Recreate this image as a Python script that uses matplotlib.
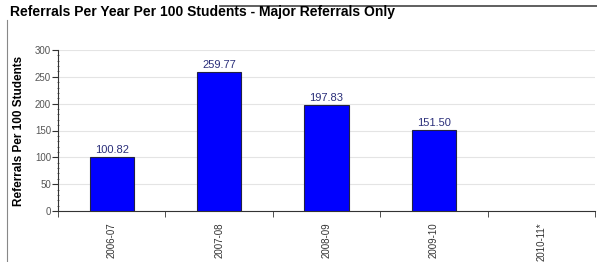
import numpy as np
import matplotlib.pyplot as plt
from matplotlib.lines import Line2D
from matplotlib.ticker import MultipleLocator

plt.rcParams['font.family'] = ['Liberation Sans', 'DejaVu Sans']

# Данные
years = ['2006-07', '2007-08', '2008-09', '2009-10', '2010-11*']
values = [100.82, 259.77, 197.83, 151.50, None]

fig = plt.figure(figsize=(5.97, 2.62), dpi=100)
ax = fig.add_axes([58 / 597, 1 - 211 / 262, 537 / 597, 161 / 262])

x = np.arange(len(years))
for xi, v in zip(x, values):
    if v is None:
        continue
    ax.bar(xi, v, width=0.41, color='#0000ff', edgecolor='#222244', linewidth=0.8, zorder=3)
    ax.text(xi, v + 3, f'{v:.2f}', ha='center', va='bottom', fontsize=8, color='#2b2f7a', zorder=4)

ax.set_xlim(-0.5, len(years) - 0.5)
ax.set_ylim(0, 300)
ax.yaxis.set_major_locator(MultipleLocator(50))
ax.yaxis.set_minor_locator(MultipleLocator(10))
ax.grid(axis='y', color='#e4e4e4', linewidth=0.8, zorder=0)

# подписи по центру категорий, штрихи на границах
ax.set_xticks(x)
ax.set_xticklabels(years, rotation=90, fontsize=7, color='#333333')
ax.tick_params(axis='x', length=0, pad=8)
ax.set_xticks(np.arange(len(years) + 1) - 0.5, minor=True)
ax.tick_params(axis='x', which='minor', length=4, direction='out', color='#333333')
ax.tick_params(axis='y', which='major', length=4, direction='out', labelsize=7,
               labelcolor='#555555', color='#333333', pad=1)
ax.tick_params(axis='y', which='minor', length=2, direction='inout', color='#555555')

for s in ['top', 'right']:
    ax.spines[s].set_visible(False)
ax.spines['left'].set_color('#333333')
ax.spines['bottom'].set_color('#333333')

ax.set_ylabel('Referrals Per 100 Students', fontsize=8.5, fontweight='bold')
ax.yaxis.set_label_coords(-0.062, 0.5)

fig.text(10 / 597, 1 - 12 / 262, 'Referrals Per Year Per 100 Students - Major Referrals Only',
         fontsize=10, fontweight='bold', va='center', ha='left')

# рамка
fig.add_artist(Line2D([220 / 597, 1], [1 - 6 / 262, 1 - 6 / 262], color='#444444', linewidth=1.2))
fig.add_artist(Line2D([7 / 597, 7 / 597], [0, 1 - 20 / 262], color='#888888', linewidth=0.8))

fig.savefig('out.png', dpi=100)
